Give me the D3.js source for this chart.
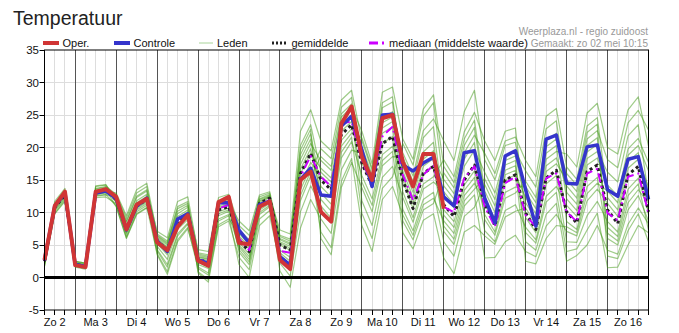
<!DOCTYPE html>
<html>
<head>
<meta charset="utf-8">
<script src="https://cdn.jsdelivr.net/npm/d3@7"></script>
<style>
body { margin: 0; background: #fff; }
text { font-family: "Liberation Sans", Arial, sans-serif; }
</style>
</head>
<body>
<div id="chart"></div>
<script>
// day labels (centred at noon), y ticks
var dagen = ['Zo 2', 'Ma 3', 'Di 4', 'Wo 5', 'Do 6', 'Vr 7', 'Za 8', 'Zo 9', 'Ma 10', 'Di 11', 'Wo 12', 'Do 13', 'Vr 14', 'Za 15', 'Zo 16'];
var yTicks = [-5, 0, 5, 10, 15, 20, 25, 30, 35];

// 6-hourly values, starting zo 2 mei 06:00
var oper = [2.7,11.0,13.2,1.9,1.6,13.2,13.6,12.4,7.4,11.2,12.1,5.4,4.2,7.8,9.6,2.6,1.8,11.6,12.4,5.3,5.1,10.9,11.7,2.7,1.3,15.0,16.3,10.1,8.6,23.7,26.3,18.6,15.0,24.5,25.0,17.8,14.0,19.0,19.0,10.6];
var controle = [2.7,11.0,13.0,2.0,1.7,13.0,13.3,12.2,7.3,11.0,12.2,5.6,4.0,9.0,9.8,2.7,2.2,11.5,11.5,7.3,5.3,11.2,11.7,3.2,1.9,15.1,16.8,12.7,12.5,23.3,24.8,19.6,14.0,25.0,25.1,17.3,16.4,17.6,18.5,12.4,11.0,19.2,19.5,12.2,8.4,18.7,19.5,13.5,7.9,21.3,21.9,14.5,14.4,20.1,20.4,13.5,12.5,18.2,18.6,12.0];
var gemiddelde = [2.5,10.8,12.7,2.0,1.7,13.0,13.3,12.0,7.4,11.0,12.0,5.6,4.3,8.6,9.8,2.7,2.4,10.4,10.9,5.8,4.0,11.4,12.2,5.0,4.2,16.0,19.1,15.0,13.5,22.0,23.5,17.6,14.1,20.6,21.7,15.0,10.6,16.0,17.1,11.2,9.4,15.0,17.3,11.4,8.0,15.0,15.8,9.9,7.4,15.3,16.5,10.1,8.4,16.3,17.3,10.4,8.3,15.8,17.1,10.1];
var mediaan = [2.6,10.9,12.8,2.0,1.7,13.0,13.3,12.0,7.4,11.0,12.0,5.6,4.3,8.8,9.8,2.7,2.6,10.6,11.2,6.0,4.2,11.3,11.9,4.1,3.8,15.5,18.7,15.5,14.0,23.7,24.0,18.1,14.2,21.7,23.2,15.8,11.9,15.8,17.3,10.9,10.0,15.3,17.1,10.9,7.8,14.5,15.5,9.6,7.8,15.3,16.0,10.1,8.6,16.0,16.7,9.9,8.8,15.5,16.0,9.9];

// ensemble members (leden)
var lid01 = [2.6,11.0,12.9,2.2,1.9,13.4,13.6,12.5,8.5,12.3,13.3,7.1,6.1,11.7,12.4,3.8,3.5,11.7,12.2,6.4,4.7,11.7,12.4,7.3,6.7,22.5,25.8,21.0,19.5,27.3,28.8,21.0,16.5,26.1,27.0,17.1,13.1,19.3,20.8,9.6,7.7,13.4,15.4,7.2,5.5,10.3,11.2,7.7,5.8,12.5,14.0,11.1,9.4,17.3,18.4,14.2,12.6,19.8,21.4,17.7];
var lid02 = [2.2,10.4,12.3,1.8,1.5,12.6,12.8,11.0,6.1,9.8,10.8,3.7,0.9,5.8,7.7,1.4,0.4,8.7,9.5,2.0,0.0,8.0,9.5,2.2,0.2,10.1,14.1,11.0,9.1,18.4,20.9,15.7,12.1,18.9,20.2,15.7,11.4,17.1,18.3,15.1,12.9,19.2,21.9,19.1,16.0,21.0,21.6,18.0,15.5,24.8,26.0,17.0,15.1,23.3,24.6,12.3,10.4,17.8,19.2,9.6];
var lid03 = [2.9,11.4,13.4,2.5,2.2,14.0,14.2,12.3,8.0,11.8,12.8,5.2,3.5,8.0,9.3,1.6,0.7,9.0,9.7,4.7,2.8,10.4,11.4,5.5,4.8,17.4,20.6,18.0,16.5,24.7,26.2,22.5,17.5,28.5,29.3,21.3,18.2,25.9,28.1,17.1,14.6,21.3,24.2,13.3,10.0,16.5,17.2,6.9,5.3,11.6,13.1,4.0,4.4,7.3,9.9,1.5,1.6,5.0,8.0,6.9];
var lid04 = [1.7,9.8,11.7,1.9,1.6,12.8,13.1,12.1,7.6,11.3,12.3,6.4,5.2,10.2,11.1,4.3,4.0,12.3,12.8,8.0,6.5,12.4,13.0,3.8,2.5,13.5,17.0,7.0,4.6,14.8,18.3,8.0,4.0,12.0,14.0,9.6,6.5,11.2,12.2,8.7,6.8,12.6,14.5,11.4,8.0,15.0,15.8,12.3,9.8,18.2,19.4,19.0,17.0,25.3,26.8,20.0,19.0,25.8,27.8,20.2];
var lid05 = [2.5,10.8,12.7,2.1,1.8,13.1,13.4,11.6,6.9,10.6,11.6,4.3,2.0,6.7,8.4,2.3,1.7,9.8,10.4,7.1,5.4,12.0,12.6,6.5,5.9,20.3,23.5,16.2,14.7,23.1,24.6,14.7,11.1,18.0,19.4,6.9,4.4,8.8,9.8,3.0,0.6,7.0,8.0,6.4,5.1,9.3,10.2,10.7,8.2,16.3,17.5,15.1,13.2,21.3,22.6,18.1,16.9,23.8,25.7,22.7];
var lid06 = [3.1,11.7,13.7,2.4,2.1,13.7,14.0,12.8,9.1,13.0,14.0,6.0,4.7,9.4,10.4,2.9,2.6,10.6,11.1,4.3,2.4,10.0,11.1,1.0,-1.5,7.6,12.0,9.0,6.8,16.6,19.6,19.1,15.1,23.0,24.0,19.2,15.6,22.6,24.4,21.0,18.0,25.5,28.8,18.1,15.0,20.3,20.8,13.1,10.6,19.1,20.3,8.6,7.4,14.0,15.4,6.0,5.0,10.4,12.6,8.7];
var lid07 = [2.0,10.2,12.1,1.6,1.3,12.3,12.4,11.3,6.4,10.1,11.1,5.4,3.9,8.3,9.6,3.2,2.9,11.0,11.5,8.7,7.2,12.7,13.2,6.0,5.3,18.9,22.1,14.0,12.4,21.1,22.9,20.1,15.8,24.6,25.5,16.4,12.3,18.2,19.5,7.1,5.1,11.0,12.7,3.0,3.1,5.5,6.5,4.0,3.2,7.9,9.7,7.1,6.4,11.8,13.6,11.4,9.4,16.8,18.2,13.9];
var lid08 = [2.7,11.1,13.0,2.0,1.7,13.0,13.3,13.0,9.5,13.5,14.5,6.7,5.6,10.9,11.7,0.7,-0.7,7.8,8.7,3.1,1.2,9.0,10.3,5.0,4.2,16.0,19.1,16.8,15.3,23.6,25.1,11.8,8.0,15.4,17.1,12.3,8.5,13.6,14.7,13.2,11.2,17.1,19.6,16.2,13.0,18.8,19.4,16.4,13.9,22.9,24.1,13.1,11.3,19.3,20.5,7.7,6.3,12.6,14.4,7.3];
var lid09 = [2.4,10.7,12.6,2.3,2.0,13.6,13.9,11.9,7.2,10.8,11.8,3.5,0.5,5.5,7.5,2.0,1.4,9.5,10.2,6.1,4.4,11.5,12.3,3.4,1.9,12.6,16.3,19.8,18.3,26.2,27.7,18.6,14.8,22.2,23.2,10.5,7.2,12.0,13.1,5.5,3.3,9.4,10.8,14.3,11.0,17.3,18.0,5.5,4.2,9.7,11.4,2.5,3.4,5.0,8.0,4.2,3.6,8.2,10.7,8.3];
var lid10 = [2.9,11.3,13.3,1.9,1.6,12.8,13.0,12.2,7.8,11.5,12.5,5.8,4.5,9.0,10.1,3.6,3.3,11.5,12.0,5.4,3.6,11.1,11.9,5.8,5.1,18.2,21.3,12.0,10.2,19.3,21.6,9.9,6.0,13.7,15.5,20.6,17.3,24.8,26.9,14.1,12.1,18.2,20.8,8.9,6.5,12.2,13.0,14.8,12.3,21.0,22.2,12.1,10.3,18.3,19.4,16.2,14.7,21.8,23.5,12.6];
var lid11 = [1.8,9.9,11.9,2.5,2.2,14.1,14.3,11.5,6.8,10.4,11.4,6.5,5.4,10.6,11.4,2.5,2.1,10.1,10.7,7.4,5.8,12.1,12.8,4.2,3.1,14.3,17.7,15.6,14.1,22.5,24.0,19.6,15.5,23.8,24.7,13.2,9.2,14.4,15.5,18.1,15.5,22.4,25.4,21.0,18.0,22.5,23.0,9.2,6.9,14.4,15.7,5.5,5.4,9.5,11.7,8.6,7.0,13.6,15.3,10.1];
var lid12 = [2.6,10.9,12.8,1.7,1.4,12.5,12.7,12.6,8.7,12.5,13.5,4.8,2.8,7.4,8.9,3.1,2.8,10.8,11.3,3.9,2.0,9.7,10.9,6.3,5.6,19.6,22.8,6.0,3.5,13.9,17.7,13.8,10.1,17.2,18.6,18.5,14.8,21.5,23.2,10.4,8.6,14.2,16.4,9.7,7.0,13.1,13.9,14.0,11.5,20.1,21.3,16.0,14.2,22.3,23.6,3.3,2.9,7.2,9.8,5.5];
var lid13 = [2.3,10.5,12.5,2.1,1.8,13.2,13.5,10.9,6.0,9.7,10.7,6.2,5.0,9.8,10.8,0.9,-0.3,8.1,9.0,6.8,5.1,11.8,12.5,3.0,1.4,11.8,15.6,18.6,17.1,25.2,26.7,17.6,14.1,20.6,21.7,8.7,5.8,10.4,11.4,16.1,13.8,20.3,23.1,12.4,9.0,15.8,16.5,2.5,2.1,6.0,8.0,7.8,6.9,12.9,14.5,13.3,11.5,18.8,20.3,16.4];
var lid14 = [2.8,11.2,13.1,2.0,1.6,12.9,13.2,12.0,7.4,11.0,12.0,4.1,1.6,6.4,8.2,3.4,3.1,11.3,11.8,5.0,3.2,10.7,11.7,5.3,4.5,16.7,19.8,13.0,11.3,20.2,22.2,21.5,16.8,26.9,27.8,15.0,10.6,16.0,17.1,7.9,5.9,11.8,13.6,15.2,12.0,18.0,18.7,11.5,9.0,17.2,18.4,14.1,12.2,20.3,21.5,6.8,5.6,11.5,13.5,11.4];
var leden = [lid01, lid02, lid03, lid04, lid05, lid06, lid07, lid08, lid09, lid10, lid11, lid12, lid13, lid14];

var chart = (function(){
    var _width = 679,
        _height = 333;

    var _plot = {left: 44.5, right: 648.5, top: 50, bottom: 310};

    var _start = Date.UTC(2021, 4, 2, 6),
        _end = Date.UTC(2021, 4, 17, 0),
        _step = 6 * 3600 * 1000; // 6 hours

    var _colors = {
        oper: '#d03535',
        controle: '#3535cc',
        leden: '#3f9a14',
        gemiddelde: '#222222',
        mediaan: '#cc00ff',
        grid: '#dddddd',
        day: '#555555',
        grey: '#999999'
    };

    var _svg = null, _x = null, _y = null;

    function _crisp(v){ return Math.round(v - 0.5) + 0.5; }

    function _line(){
        return d3.line()
            .x(function(d, i){ return _x(new Date(_start + i * _step)); })
            .y(function(d){ return _y(d); });
    }

    function init(){
        _svg = d3.select('#chart').append('svg')
            .attr('width', _width)
            .attr('height', _height);

        _x = d3.scaleUtc().domain([new Date(_start), new Date(_end)]).range([_plot.left, _plot.right]);
        _y = d3.scaleLinear().domain([-5, 35]).range([_plot.bottom, _plot.top]);
    }

    function draw(){
        _drawGrid();
        _drawSeries();
        _drawFrame();
        _drawHeader();
    }

    function _drawGrid(){
        var g = _svg.append('g');
        var sixHours = d3.utcHour.every(6).range(new Date(_start), new Date(_end));
        var days = d3.utcDay.range(new Date(_start), new Date(_end));

        g.selectAll('line.h').data(yTicks.filter(function(d){ return d > -5 && d < 35 && d !== 0; }))
            .enter().append('line')
                .attr('x1', _plot.left).attr('x2', _plot.right)
                .attr('y1', function(d){ return _crisp(_y(d)); })
                .attr('y2', function(d){ return _crisp(_y(d)); })
                .attr('stroke', _colors.grid);

        g.selectAll('line.v').data(sixHours)
            .enter().append('line')
                .attr('x1', function(d){ return _crisp(_x(d)); })
                .attr('x2', function(d){ return _crisp(_x(d)); })
                .attr('y1', _plot.top).attr('y2', _plot.bottom)
                .attr('stroke', _colors.grid);

        g.selectAll('line.d').data(days)
            .enter().append('line')
                .attr('x1', function(d){ return _crisp(_x(d)); })
                .attr('x2', function(d){ return _crisp(_x(d)); })
                .attr('y1', _plot.top).attr('y2', _plot.bottom)
                .attr('stroke', _colors.day);

        // bottom ticks every 6 hours
        g.selectAll('line.bt').data(sixHours.concat([new Date(_end)]))
            .enter().append('line')
                .attr('x1', function(d){ return _crisp(_x(d)); })
                .attr('x2', function(d){ return _crisp(_x(d)); })
                .attr('y1', _plot.bottom).attr('y2', _plot.bottom + 5)
                .attr('stroke', '#000');

        g.selectAll('text.day').data(dagen)
            .enter().append('text')
                .attr('x', function(d, i){ return _x(new Date(Date.UTC(2021, 4, 2 + i, 12))); })
                .attr('y', 326)
                .attr('text-anchor', 'middle')
                .attr('font-size', '11px')
                .attr('fill', '#111')
                .text(function(d){ return d; });

        // y axis ticks + labels
        g.selectAll('line.yt').data(yTicks)
            .enter().append('line')
                .attr('x1', _plot.left - 5).attr('x2', _plot.left)
                .attr('y1', function(d){ return _crisp(_y(d)); })
                .attr('y2', function(d){ return _crisp(_y(d)); })
                .attr('stroke', '#000');

        g.selectAll('text.yl').data(yTicks)
            .enter().append('text')
                .attr('x', 39)
                .attr('y', function(d){ return _y(d); })
                .attr('dy', '0.36em')
                .attr('text-anchor', 'end')
                .attr('font-size', '11.5px')
                .attr('fill', '#111')
                .text(function(d){ return d; });
    }

    function _drawSeries(){
        var g = _svg.append('g').attr('fill', 'none').attr('stroke-linejoin', 'round');
        var line = _line();

        g.selectAll('path.lid').data(leden)
            .enter().append('path')
                .attr('d', line)
                .attr('stroke', _colors.leden)
                .attr('stroke-opacity', 0.5)
                .attr('stroke-width', 1.2);

        g.append('path').attr('d', line(gemiddelde))
            .attr('stroke', _colors.gemiddelde)
            .attr('stroke-width', 3)
            .attr('stroke-dasharray', '3,3');

        g.append('path').attr('d', line(mediaan))
            .attr('stroke', _colors.mediaan)
            .attr('stroke-width', 2)
            .attr('stroke-dasharray', '9,4,2,4');

        g.append('path').attr('d', line(controle))
            .attr('stroke', _colors.controle)
            .attr('stroke-width', 3.5);

        g.append('path').attr('d', line(oper))
            .attr('stroke', _colors.oper)
            .attr('stroke-width', 4);
    }

    function _drawFrame(){
        var g = _svg.append('g').attr('stroke', '#000').attr('fill', 'none');
        g.append('rect')
            .attr('x', _plot.left).attr('y', _plot.top)
            .attr('width', Math.round(_plot.right - _plot.left))
            .attr('height', _plot.bottom - _plot.top);
        g.append('line')
            .attr('x1', _plot.left).attr('x2', _plot.right)
            .attr('y1', _y(0)).attr('y2', _y(0))
            .attr('stroke-width', 3);
    }

    function _drawHeader(){
        _svg.append('text')
            .attr('x', 13).attr('y', 25)
            .attr('font-size', '19.5px')
            .attr('fill', '#222')
            .text('Temperatuur');

        var items = [
            {label: 'Oper.', x: 43, w: 16, tx: 62.5, color: _colors.oper, width: 4},
            {label: 'Controle', x: 114, w: 16, tx: 133.5, color: _colors.controle, width: 4},
            {label: 'Leden', x: 199, w: 14, tx: 217, color: '#a9d49a', width: 1},
            {label: 'gemiddelde', x: 272, w: 14, tx: 291.5, color: _colors.gemiddelde, width: 3, dash: '2,2'},
            {label: 'mediaan (middelste waarde)', x: 369, w: 16, tx: 389, color: _colors.mediaan, width: 3, dash: '9,4,2,4'}
        ];
        var lg = _svg.append('g');
        lg.selectAll('line').data(items)
            .enter().append('line')
                .attr('x1', function(d){ return d.x; })
                .attr('x2', function(d){ return d.x + d.w; })
                .attr('y1', 43).attr('y2', 43)
                .attr('stroke', function(d){ return d.color; })
                .attr('stroke-width', function(d){ return d.width; })
                .attr('stroke-dasharray', function(d){ return d.dash || null; });
        lg.selectAll('text').data(items)
            .enter().append('text')
                .attr('x', function(d){ return d.tx; })
                .attr('y', 47)
                .attr('font-size', '11px')
                .attr('fill', '#111')
                .text(function(d){ return d.label; });

        _svg.append('text')
            .attr('x', 648).attr('y', 35)
            .attr('text-anchor', 'end')
            .attr('font-size', '10px')
            .attr('fill', _colors.grey)
            .text('Weerplaza.nl - regio zuidoost');
        _svg.append('text')
            .attr('x', 648).attr('y', 47)
            .attr('text-anchor', 'end')
            .attr('font-size', '10px')
            .attr('fill', _colors.grey)
            .text('Gemaakt: zo 02 mei 10:15');
    }

    return {
        init: init,
        draw: draw
    };
})();

chart.init();
chart.draw();
</script>
</body>
</html>
